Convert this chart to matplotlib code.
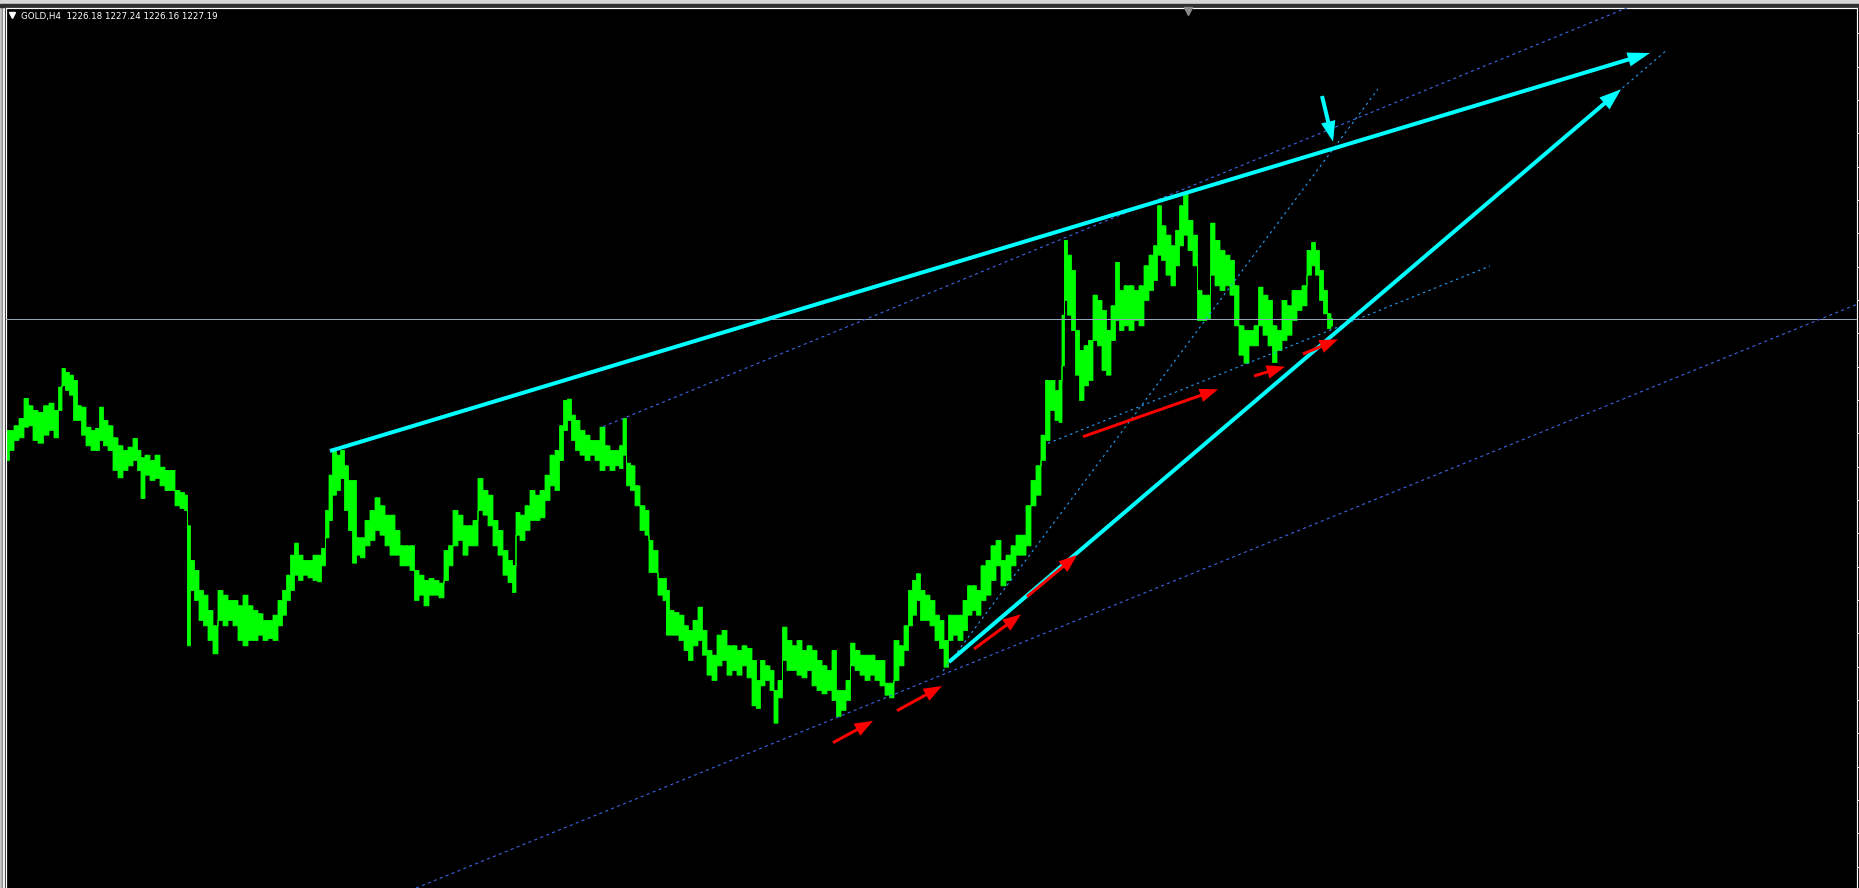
import matplotlib

matplotlib.use("Agg")
import matplotlib.pyplot as plt
from matplotlib.lines import Line2D
from matplotlib.patches import ArrowStyle, FancyArrowPatch, Rectangle

W, H, DPI = 1859, 888, 100

SYMBOL = "GOLD,H4"
OHLC = [1226.18, 1227.24, 1226.16, 1227.19]
LAST_PRICE = OHLC[3]

# H4 bars, sampled (bar index, high, low)
bar_x = [
    7, 11, 16, 21, 26, 30, 35, 40, 46, 51, 56, 60, 63, 67, 71, 75, 79, 83, 88, 93,
    97, 101, 105, 110, 115, 120, 125, 130, 135, 139, 142, 147, 152, 157, 162, 167, 172, 177, 182, 186,
    188, 192, 196, 201, 205, 210, 215, 220, 225, 230, 235, 240, 245, 250, 255, 260, 265, 270, 275, 280,
    284, 288, 292, 296, 300, 305, 310, 315, 319, 323, 327, 330, 334, 338, 342, 346, 350, 354, 358, 362,
    367, 372, 377, 382, 387, 392, 397, 402, 407, 412, 416, 421, 426, 431, 436, 441, 446, 450, 455, 460,
    465, 470, 475, 480, 485, 490, 495, 500, 505, 510, 514, 517, 522, 527, 532, 537, 542, 547, 552, 557,
    561, 565, 569, 573, 577, 582, 587, 592, 597, 602, 607, 612, 617, 621, 624, 628, 632, 637, 642, 647,
    650, 655, 660, 665, 667, 671, 676, 681, 686, 690, 695, 700, 704, 709, 714, 719, 724, 729, 734, 739,
    744, 749, 754, 758, 762, 767, 772, 775, 780, 784, 789, 794, 799, 804, 809, 814, 819, 824, 829, 834,
    838, 843, 848, 852, 857, 862, 867, 872, 877, 882, 887, 891, 896, 901, 906, 910, 914, 918, 922, 927,
    932, 937, 941, 946, 950, 955, 960, 965, 969, 974, 978, 983, 988, 993, 998, 1003, 1008, 1013, 1018, 1023,
    1028, 1033, 1038, 1043, 1047, 1052, 1057, 1060, 1063, 1065, 1069, 1073, 1077, 1081, 1086, 1090, 1095, 1099, 1104, 1108,
    1113, 1117, 1121, 1126, 1131, 1136, 1141, 1146, 1151, 1155, 1159, 1163, 1168, 1173, 1177, 1181, 1185, 1190, 1195, 1199,
    1204, 1208, 1212, 1217, 1222, 1227, 1232, 1236, 1241, 1246, 1251, 1256, 1260, 1265, 1270, 1274, 1279, 1284, 1289, 1294,
    1299, 1304, 1309, 1313, 1317, 1321, 1325, 1329, 1332,
]
bar_high = [
    1210.5, 1210.5, 1211.2, 1212.3, 1215.3, 1214.2, 1213.5, 1213.2, 1214.2, 1214.6,
    1213.5, 1217.0, 1219.8, 1219.2, 1218.8, 1218.0, 1214.2, 1214.0, 1211.0, 1210.5,
    1210.8, 1214.0, 1212.0, 1211.2, 1209.4, 1208.2, 1207.5, 1208.0, 1209.3, 1207.5,
    1206.4, 1206.8, 1206.0, 1206.8, 1205.0, 1204.5, 1204.5, 1201.5, 1201.2, 1200.8,
    1196.2, 1191.0, 1189.5, 1186.5, 1185.8, 1183.5, 1181.2, 1186.5, 1185.8, 1185.0,
    1185.0, 1184.2, 1185.8, 1184.2, 1183.5, 1183.0, 1182.0, 1182.0, 1182.8, 1185.0,
    1186.5, 1188.8, 1191.8, 1193.6, 1191.8, 1191.0, 1191.0, 1191.8, 1191.8, 1192.8,
    1198.5, 1203.8, 1207.5, 1206.8, 1207.5, 1205.2, 1203.0, 1203.0, 1194.4, 1194.4,
    1197.0, 1198.5, 1200.4, 1199.2, 1197.8, 1197.8, 1195.5, 1193.2, 1193.2, 1193.2,
    1189.5, 1188.8, 1188.0, 1188.3, 1188.0, 1187.6, 1192.5, 1193.2, 1198.5, 1197.8,
    1196.2, 1196.2, 1197.0, 1203.3, 1201.5, 1200.8, 1197.0, 1195.5, 1192.5, 1191.0,
    1190.2, 1198.2, 1197.8, 1199.2, 1201.5, 1200.8, 1201.5, 1203.8, 1206.8, 1207.5,
    1211.2, 1215.0, 1215.2, 1212.8, 1212.0, 1210.5, 1209.8, 1209.0, 1209.0, 1211.0,
    1208.2, 1207.5, 1207.5, 1208.2, 1212.3, 1205.6, 1205.2, 1202.2, 1199.2, 1198.5,
    1194.0, 1192.5, 1188.3, 1188.3, 1186.5, 1183.5, 1183.2, 1182.8, 1181.2, 1180.5,
    1182.0, 1184.0, 1180.5, 1177.5, 1176.8, 1179.8, 1180.5, 1178.2, 1178.2, 1177.5,
    1178.2, 1177.8, 1176.0, 1173.0, 1176.0, 1175.2, 1174.5, 1171.5, 1173.0, 1181.0,
    1179.0, 1178.2, 1179.0, 1177.5, 1178.2, 1177.5, 1176.0, 1175.2, 1174.5, 1177.5,
    1171.5, 1171.5, 1173.0, 1178.6, 1177.5, 1176.8, 1176.8, 1176.8, 1176.0, 1176.0,
    1172.6, 1172.6, 1179.0, 1178.2, 1181.2, 1186.5, 1188.0, 1189.0, 1186.5, 1185.8,
    1185.0, 1182.8, 1182.0, 1179.0, 1182.8, 1182.8, 1182.8, 1185.0, 1187.2, 1187.2,
    1186.5, 1190.2, 1191.0, 1193.2, 1194.0, 1191.0, 1191.8, 1193.2, 1194.8, 1194.8,
    1199.2, 1203.0, 1205.2, 1209.8, 1218.0, 1218.0, 1216.5, 1218.0, 1227.8, 1239.0,
    1236.8, 1234.5, 1225.5, 1222.5, 1223.2, 1224.0, 1230.8, 1230.0, 1228.5, 1225.5,
    1229.2, 1235.7, 1231.5, 1232.2, 1232.2, 1231.5, 1232.2, 1235.2, 1236.8, 1238.2,
    1244.2, 1241.2, 1239.8, 1238.2, 1240.5, 1244.2, 1246.0, 1242.0, 1239.8, 1231.5,
    1230.8, 1230.8, 1241.6, 1239.0, 1237.5, 1236.8, 1236.0, 1232.2, 1226.2, 1225.5,
    1225.5, 1226.2, 1232.0, 1230.8, 1230.0, 1226.2, 1225.5, 1230.0, 1229.2, 1231.5,
    1231.5, 1232.2, 1237.5, 1238.7, 1237.5, 1234.5, 1231.5, 1228.0, 1227.24,
]
bar_low = [
    1206.0, 1207.5, 1209.0, 1209.4, 1211.0, 1211.2, 1209.0, 1208.6, 1209.8, 1210.5,
    1209.4, 1213.5, 1217.2, 1216.5, 1215.8, 1212.0, 1212.0, 1209.8, 1208.2, 1207.5,
    1207.5, 1209.0, 1208.2, 1207.5, 1204.5, 1203.4, 1204.5, 1205.2, 1206.0, 1204.5,
    1200.3, 1203.8, 1203.0, 1203.3, 1202.2, 1201.5, 1201.5, 1199.2, 1198.8, 1198.5,
    1178.2, 1186.5, 1185.0, 1182.0, 1181.2, 1179.0, 1177.0, 1182.0, 1181.2, 1182.0,
    1181.2, 1179.0, 1178.2, 1179.0, 1179.0, 1179.8, 1179.0, 1179.3, 1179.0, 1181.2,
    1182.8, 1185.0, 1186.5, 1188.8, 1188.0, 1188.8, 1188.4, 1188.0, 1187.8, 1190.2,
    1194.4, 1197.0, 1200.8, 1201.5, 1203.3, 1198.5, 1195.5, 1190.6, 1191.8, 1191.4,
    1193.2, 1194.0, 1195.5, 1194.8, 1193.2, 1191.8, 1191.8, 1190.2, 1190.2, 1189.5,
    1185.0, 1185.8, 1184.2, 1185.8, 1185.8, 1185.4, 1188.0, 1190.2, 1193.2, 1194.0,
    1191.8, 1193.2, 1193.2, 1198.5, 1197.8, 1196.2, 1193.2, 1191.8, 1188.8, 1187.7,
    1186.2, 1194.8, 1194.0, 1195.5, 1197.0, 1197.0, 1197.4, 1200.0, 1202.2, 1201.5,
    1206.0, 1210.5, 1212.0, 1209.0, 1207.5, 1206.8, 1206.0, 1206.8, 1206.0, 1204.5,
    1205.2, 1204.5, 1205.2, 1204.8, 1206.8, 1202.2, 1201.5, 1199.2, 1195.5, 1194.8,
    1189.2, 1189.2, 1185.8, 1185.0, 1179.8, 1179.8, 1179.8, 1179.0, 1177.5, 1176.0,
    1178.2, 1179.0, 1176.8, 1173.8, 1173.0, 1175.2, 1176.0, 1173.8, 1174.5, 1173.8,
    1175.2, 1173.4, 1169.2, 1168.8, 1172.2, 1173.0, 1171.5, 1166.6, 1170.4, 1176.0,
    1174.5, 1174.5, 1173.8, 1173.4, 1174.5, 1172.2, 1171.5, 1171.0, 1171.5, 1170.0,
    1167.6, 1168.5, 1170.0, 1175.2, 1174.5, 1173.8, 1173.0, 1173.8, 1173.0, 1172.2,
    1170.8, 1170.4, 1173.0, 1175.2, 1177.5, 1181.2, 1182.8, 1185.0, 1182.0, 1182.0,
    1181.2, 1179.0, 1177.8, 1175.0, 1179.0, 1179.8, 1179.0, 1180.5, 1182.8, 1183.5,
    1182.8, 1185.0, 1185.8, 1188.0, 1190.2, 1187.2, 1188.0, 1190.2, 1191.8, 1191.8,
    1193.2, 1199.2, 1200.8, 1206.0, 1209.0, 1213.5, 1212.0, 1211.7, 1220.2, 1230.0,
    1227.8, 1225.5, 1218.8, 1215.0, 1217.2, 1218.0, 1224.0, 1223.2, 1219.5, 1218.8,
    1224.0, 1227.0, 1225.5, 1226.2, 1225.5, 1227.0, 1226.2, 1230.0, 1231.5, 1233.0,
    1236.8, 1236.0, 1233.8, 1232.2, 1235.2, 1238.2, 1239.8, 1237.5, 1235.2, 1227.0,
    1227.0, 1227.3, 1233.8, 1232.2, 1231.5, 1232.2, 1230.8, 1226.2, 1221.8, 1220.6,
    1223.2, 1223.2, 1226.2, 1224.8, 1223.2, 1220.7, 1222.5, 1224.0, 1224.8, 1227.0,
    1228.5, 1229.2, 1233.8, 1235.2, 1233.8, 1230.0, 1228.0, 1225.8, 1226.16,
]

# chart objects, anchors as (bar, price)
cyan_upper = [(330, 1207.35), (1650, 1267.05)]
cyan_rising = [(949, 1175.7), (1621, 1261.6)]
cyan_rising_ext = [(949, 1175.7), (1667, 1267.5)]
cyan_down = [(1322, 1260.6), (1333, 1253.75)]
channel_upper = [(603, 1211.0), (1030, 1237.2)]
channel_lower = [(421, 1142.1), (1127, 1185.0)]
steep_line = [(943, 1174.35), (1378, 1261.65)]
base_line = [(1048, 1208.5), (1490, 1235.1)]
red_arrows = [
    [(833, 1163.6), (873, 1166.85)],
    [(897, 1168.4), (942, 1172.1)],
    [(974, 1177.65), (1021, 1182.85)],
    [(1027, 1185.5), (1077, 1191.75)],
    [(1083, 1209.5), (1218, 1216.6)],
    [(1254, 1218.6), (1285, 1220.0)],
    [(1303, 1221.9), (1338, 1224.1)],
]

PX = 72 / DPI  # one pixel in points
fig = plt.figure(figsize=(W / DPI, H / DPI), dpi=DPI, facecolor="black")

# window frame
fig.add_artist(Rectangle((0, 0), 2 / W, 1, transform=fig.transFigure, color="#c4c4c4", zorder=0))
fig.add_artist(Rectangle((2 / W, 0), 1 / W, 1, transform=fig.transFigure, color="#7a7a7a", zorder=0))
fig.add_artist(Rectangle((3 / W, 0), 1 / W, 1, transform=fig.transFigure, color="#f0f0f0", zorder=0))
fig.add_artist(Rectangle((0, 1 - 4 / H), 1, 4 / H, transform=fig.transFigure, color="#d6d6d6", zorder=0))
fig.add_artist(Rectangle((0, 1 - 7 / H), 1, 3 / H, transform=fig.transFigure, color="#303030", zorder=0))

ax = fig.add_axes([6 / W, 0, 1851 / W, 880 / H])
ax.set_facecolor("black")
ax.set_xlim(6, 1857)
ax.set_ylim(1141.8, 1273.8)
for side in ["top", "left", "right"]:
    ax.spines[side].set_color("white")
    ax.spines[side].set_linewidth(PX * 1.2)
ax.spines["bottom"].set_visible(False)
ax.set_xticks([])
ax.yaxis.tick_right()
ax.set_yticks(range(1145, 1275, 5))
ax.tick_params(axis="y", direction="out", length=2 * PX * 1.4, width=PX, color="white", labelright=False)

# price bars: stepped body plus a wick at every sample
ax.fill_between(bar_x, bar_low, bar_high, step="mid", color="#00ff00", lw=PX * 0.8, zorder=2)
ax.vlines(bar_x, bar_low, bar_high, color="#00ff00", lw=PX * 1.5, zorder=2)

# current price line
ax.axhline(LAST_PRICE, color="#95a3bb", lw=PX, zorder=3)


def seg(points, color, lw, dashes=None, ray=False):
    (x1, y1), (x2, y2) = points
    if ray:
        slope = (y2 - y1) / (x2 - x1)
        x2, y2 = 2000, y1 + slope * (2000 - x1)
    line, = ax.plot([x1, x2], [y1, y2], color=color, lw=lw, zorder=4)
    if dashes:
        line.set_dashes(dashes)
    return line


def arrow(points, color, lw, head_len, head_w):
    style = ArrowStyle("-|>", head_length=head_len, head_width=head_w)
    p = FancyArrowPatch(points[0], points[1], arrowstyle=style, mutation_scale=1,
                        color=color, lw=lw, shrinkA=0, shrinkB=0, zorder=6,
                        joinstyle="miter", capstyle="butt")
    ax.add_patch(p)


blue = "#3f66e6"
light_blue = "#2a9df4"
ax.axline(channel_lower[0], channel_lower[1], color=blue, lw=PX * 1.1, dashes=(2.8, 3.0), zorder=4)
seg(channel_upper, blue, PX * 1.1, dashes=(2.8, 3.0), ray=True)
seg(steep_line, light_blue, PX * 1.1, dashes=(2.2, 3.2))
seg(base_line, light_blue, PX * 1.1, dashes=(2.2, 3.2))
seg(cyan_rising_ext, light_blue, PX * 1.1, dashes=(2.2, 3.2))

cyan = "#00ffff"
arrow(cyan_upper, cyan, PX * 4, 10, 3.2)
arrow(cyan_rising, cyan, PX * 4, 10, 3.6)
arrow(cyan_down, cyan, PX * 4, 9, 3.2)
for pts in red_arrows:
    arrow(pts, "#ff0000", PX * 3, 9, 3.4)

# header
fig.add_artist(Line2D([12 / W], [1 - 15 / H], marker="v", markersize=4.5, color="white",
                      lw=0, transform=fig.transFigure))
fig.add_artist(Line2D([1188 / W], [1 - 11 / H], marker="v", markersize=6, color="#8a8a8a",
                      lw=0, transform=fig.transFigure))
header = SYMBOL + "  " + " ".join(f"{v:.2f}" for v in OHLC)
fig.text(21 / W, 1 - 18.5 / H, header, color="white", fontsize=6.3, va="baseline", ha="left",
         family="DejaVu Sans")

fig.savefig("out.png", dpi=DPI, facecolor=fig.get_facecolor())
